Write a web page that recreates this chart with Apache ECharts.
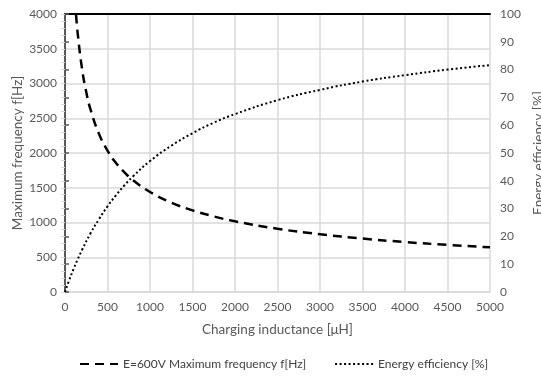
<!DOCTYPE html>
<html>
<head>
<meta charset="utf-8">
<script src="https://cdn.jsdelivr.net/npm/echarts@6/dist/echarts.min.js"></script>
<style>
html,body{margin:0;padding:0;background:#fff;}
#c{width:541px;height:380px;}
</style>
</head>
<body>
<div id="c"></div>
<script>
// Frequency curve (E=600V), inductance in µH vs frequency in Hz
var freqL = [130, 150, 200, 250, 300, 400, 500, 600, 700, 800, 1000, 1250, 1500, 1750, 2000, 2500, 3000, 3500, 4000, 4500, 5000];
var freqHz = [3990, 3715, 3217, 2878, 2627, 2275, 2035, 1857, 1720, 1609, 1439, 1287, 1175, 1088, 1017, 910, 831, 769, 719, 678, 643];
// Energy efficiency curve, inductance in µH vs %
var effL = [0, 50, 100, 150, 200, 300, 400, 500, 600, 700, 800, 1000, 1250, 1500, 1750, 2000, 2500, 3000, 3500, 4000, 4500, 5000];
var effPct = [0, 4.3, 8.2, 11.8, 15.1, 21.1, 26.2, 30.8, 34.8, 38.4, 41.6, 47.1, 52.6, 57.1, 60.9, 64.0, 69.0, 72.7, 75.7, 78.0, 80.0, 81.6];
var seriesNames = ['E=600V Maximum frequency f[Hz]', 'Energy efficiency [%]'];

var font = 'Lato';
var labelColor = '#595959';
var gridColor = '#d9d9d9';

function pairs(xs, ys) { return xs.map(function (x, i) { return [x, ys[i]]; }); }
function plain(v) { return String(v); }

var chart = echarts.init(document.getElementById('c'));
chart.setOption({
  animation: false,
  textStyle: { fontFamily: font },
  grid: { left: 65, right: 51, top: 14, bottom: 88, containLabel: false, outerBoundsMode: 'none' },
  legend: {
    bottom: 5,
    left: 74,
    itemGap: 28,
    itemWidth: 38,
    itemHeight: 10,
    itemStyle: { opacity: 0 },
    textStyle: { fontFamily: font, fontSize: 12, color: '#404040' },
    data: seriesNames
  },
  xAxis: [{
    type: 'value', min: 0, max: 5000, interval: 500,
    name: 'Charging inductance [\u03bcH]', nameLocation: 'middle', nameGap: 31,
    nameTextStyle: { fontFamily: font, fontSize: 13.5, color: labelColor },
    axisLine: { show: true, lineStyle: { color: gridColor, width: 1.5 } },
    axisTick: { show: false },
    axisLabel: { fontFamily: font, fontSize: 12, color: labelColor, margin: 9, formatter: plain },
    splitLine: { show: true, lineStyle: { color: gridColor, width: 1.5 } }
  }, {
    type: 'value', min: 0, max: 5000, position: 'top',
    axisLine: { show: true, onZero: false, lineStyle: { color: '#000', width: 2 } },
    axisTick: { show: false }, axisLabel: { show: false }, splitLine: { show: false }
  }],
  yAxis: [{
    type: 'value', min: 0, max: 4000, interval: 500,
    name: 'Maximum frequency f[Hz]', nameLocation: 'middle', nameGap: 40, nameMoveOverlap: false,
    nameTextStyle: { fontFamily: font, fontSize: 13.5, color: labelColor },
    axisLine: { show: true, lineStyle: { color: gridColor, width: 1.5 } },
    axisTick: { show: true, length: 4, lineStyle: { color: gridColor } },
    minorTick: { show: true, splitNumber: 5, length: 4, lineStyle: { color: gridColor } },
    axisLabel: { fontFamily: font, fontSize: 12, color: labelColor, margin: 8, formatter: plain },
    splitLine: { show: true, lineStyle: { color: gridColor, width: 1.5 } }
  }, {
    type: 'value', min: 0, max: 100, interval: 10, position: 'right',
    name: 'Energy efficiency [%]', nameLocation: 'middle', nameGap: 42, nameRotate: 90, nameMoveOverlap: false,
    nameTextStyle: { fontFamily: font, fontSize: 13.5, color: labelColor },
    axisLine: { show: true, lineStyle: { color: '#595959', width: 2 } },
    axisTick: { show: true, length: 4, lineStyle: { color: '#595959', width: 1.5 } },
    axisLabel: { fontFamily: font, fontSize: 12, color: labelColor, margin: 10 },
    splitLine: { show: false }
  }],
  series: [{
    name: seriesNames[0], type: 'line', xAxisIndex: 0, yAxisIndex: 0,
    data: pairs(freqL, freqHz), smooth: true, symbol: 'none',
    lineStyle: { color: '#000', width: 2.5, type: [9, 6] }, itemStyle: { color: '#000' }
  }, {
    name: seriesNames[1], type: 'line', xAxisIndex: 0, yAxisIndex: 1,
    data: pairs(effL, effPct), smooth: true, symbol: 'none',
    lineStyle: { color: '#000', width: 2, type: [2, 2.5] }, itemStyle: { color: '#000' }
  }]
});
</script>
</body>
</html>
